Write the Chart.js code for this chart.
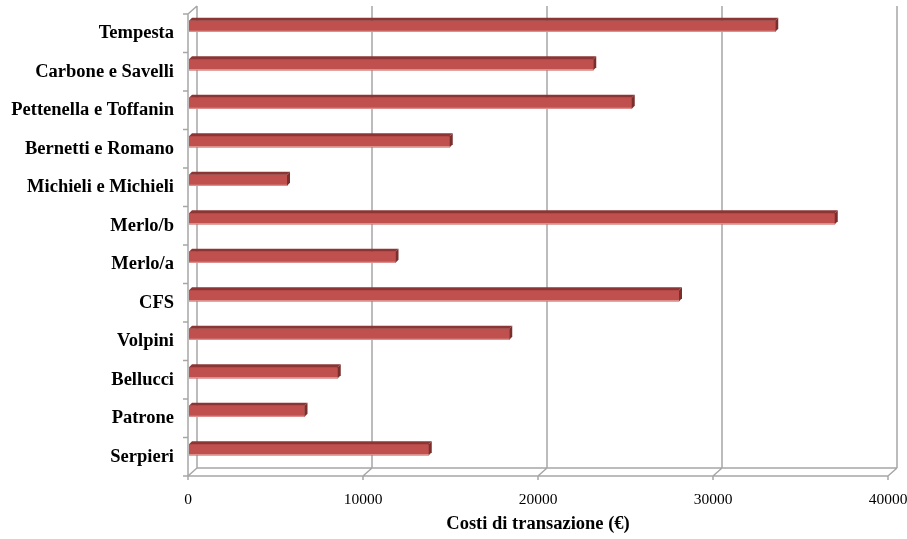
<!DOCTYPE html>
<html>
<head>
<meta charset="utf-8">
<script src="https://cdn.jsdelivr.net/npm/chart.js@4"></script>
<style>
  html, body { margin: 0; padding: 0; background: #fff; }
  #wrap { width: 907px; height: 539px; }
</style>
</head>
<body>
<div id="wrap"><canvas id="myChart" width="907" height="539"></canvas></div>
<script>
const soggetti = ['Tempesta', 'Carbone e Savelli', 'Pettenella e Toffanin', 'Bernetti e Romano',
  'Michieli e Michieli', 'Merlo/b', 'Merlo/a', 'CFS', 'Volpini', 'Bellucci', 'Patrone', 'Serpieri']
const costi = [33500, 23100, 25300, 14900, 5600, 36900, 11800, 28000, 18300, 8500, 6600, 13700]
const xTicks = [0, 10000, 20000, 30000, 40000]

const DX = 9, DY = 8   // depth of the 3d walls

// draws the back wall, floor and bar depth like the excel 3d bar chart
const walls = {
  id: 'walls',
  beforeDatasetsDraw(chart) {
    const ctx = chart.ctx
    const a = chart.chartArea
    const x = chart.scales.x
    ctx.save()
    ctx.strokeStyle = '#a6a6a6'
    ctx.lineWidth = 1.5
    ctx.beginPath()
    // left wall
    ctx.moveTo(a.left, a.top); ctx.lineTo(a.left, a.bottom)
    ctx.moveTo(a.left, a.top); ctx.lineTo(a.left + DX, a.top - DY)
    // floor
    ctx.moveTo(a.left, a.bottom); ctx.lineTo(a.right, a.bottom)
    ctx.moveTo(a.left + DX, a.bottom - DY); ctx.lineTo(a.right + DX, a.bottom - DY)
    xTicks.forEach(v => {
      const px = x.getPixelForValue(v)
      ctx.moveTo(px + DX, a.top - DY); ctx.lineTo(px + DX, a.bottom - DY)
      ctx.moveTo(px, a.bottom); ctx.lineTo(px + DX, a.bottom - DY)
      ctx.moveTo(px, a.bottom); ctx.lineTo(px, a.bottom + 4)
    })
    // category ticks
    const n = soggetti.length
    for (let i = 0; i <= n; i++) {
      const py = a.top + (a.bottom - a.top) * i / n
      ctx.moveTo(a.left - 5, py); ctx.lineTo(a.left, py)
    }
    ctx.stroke()
    ctx.restore()
    ctx.save()
    ctx.translate(1, -7)
  },
  afterDatasetsDraw(chart) {
    const ctx = chart.ctx
    const d = 3
    chart.getDatasetMeta(0).data.forEach(bar => {
      const l = bar.base, r = bar.x
      const t = bar.y - bar.height / 2, b = bar.y + bar.height / 2
      ctx.fillStyle = '#8b3634'
      ctx.beginPath()
      ctx.moveTo(l, t); ctx.lineTo(l + d, t - d); ctx.lineTo(r + d, t - d); ctx.lineTo(r, t)
      ctx.closePath(); ctx.fill()
      ctx.fillStyle = '#7a2f2d'
      ctx.beginPath()
      ctx.moveTo(r, t); ctx.lineTo(r + d, t - d); ctx.lineTo(r + d, b - d); ctx.lineTo(r, b)
      ctx.closePath(); ctx.fill()
      ctx.fillStyle = '#e3a5a3'
      ctx.fillRect(l, b - 1, r - l, 1)
    })
    ctx.restore()
  }
}

const ctx = document.getElementById('myChart')

new Chart(ctx, {
  type: 'bar',
  data: {
    labels: soggetti,
    datasets: [{
      label: 'Costi di transazione',
      data: costi,
      backgroundColor: '#c0504d',
      borderWidth: 0,
      barThickness: 11
    }]
  },
  plugins: [walls],
  options: {
    indexAxis: 'y',
    responsive: false,
    animation: false,
    layout: { padding: { top: 14, right: 19, left: 0, bottom: 0 } },
    plugins: {
      legend: { display: false },
      tooltip: { enabled: false }
    },
    scales: {
      x: {
        min: 0,
        max: 40000,
        afterFit(scale) {
          scale.height = 63
          scale.paddingLeft = 0
          scale.paddingRight = 0
        },
        afterBuildTicks(scale) { scale.ticks = xTicks.map(v => ({ value: v })) },
        grid: { display: false },
        border: { display: false },
        ticks: {
          color: '#000',
          padding: 7,
          callback: v => String(v),
          font: { family: 'Liberation Serif', size: 15.5 }
        },
        title: {
          display: true,
          text: 'Costi di transazione (€)',
          color: '#000',
          padding: { top: 0, bottom: 4 },
          font: { family: 'Liberation Serif', size: 18.5, weight: 'bold' }
        }
      },
      y: {
        afterFit(scale) {
          scale.width = 188
          scale.paddingTop = 0
          scale.paddingBottom = 0
        },
        grid: { display: false },
        border: { display: false },
        ticks: {
          color: '#000',
          padding: 6,
          font: { family: 'Liberation Serif', size: 18.5, weight: 'bold' }
        }
      }
    }
  }
})
</script>
</body>
</html>
